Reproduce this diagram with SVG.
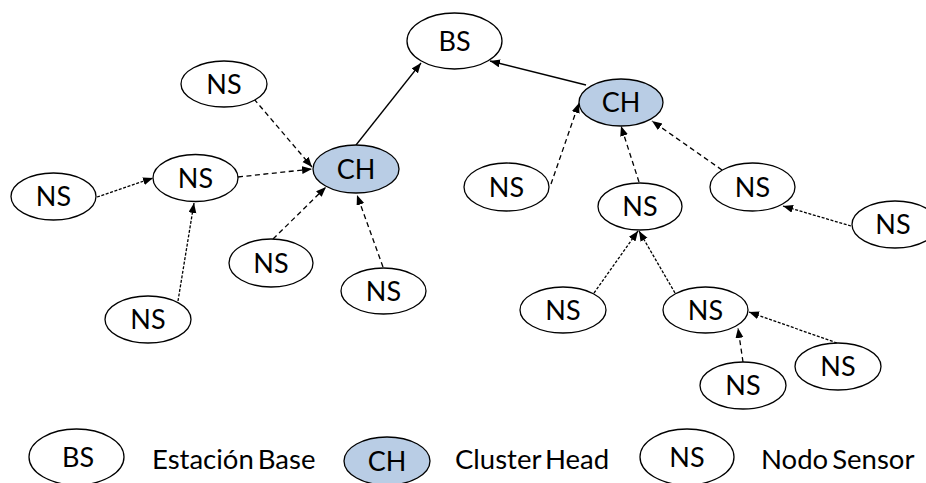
<svg xmlns="http://www.w3.org/2000/svg" width="926" height="483" viewBox="0 0 926 483">
<style>
  .n ellipse { fill: #ffffff; stroke: #000; stroke-width: 1.3; }
  .c ellipse { fill: #b9cde5; stroke: #000; stroke-width: 1.3; }
  text { font-family: Lato, "Open Sans", "Liberation Sans", sans-serif; font-size: 27px; fill: #000; }
  .n text, .c text { text-anchor: middle; }
  .lg { font-size: 27.5px; word-spacing: -3px; }
  .e { fill: none; stroke: #000; stroke-width: 1.3; marker-end: url(#ah); }
  .d1 { stroke-dasharray: 5 3.5; }
  .d2 { stroke-dasharray: 3 1.6; }
</style>
<defs>
  <marker id="ah" markerUnits="userSpaceOnUse" markerWidth="11" markerHeight="9" refX="10" refY="4" orient="auto">
    <path d="M0,0 L10,4 L0,8 z" fill="#000"/>
  </marker>
</defs>
<g id="connectors">
  <line class="e" x1="356" y1="145" x2="421" y2="63"/>
  <line class="e" x1="586" y1="85" x2="490" y2="61"/>
  <line class="e d1" x1="254" y1="99" x2="312" y2="167"/>
  <line class="e d1" x1="238" y1="177" x2="312" y2="169"/>
  <line class="e d2" x1="97" y1="197" x2="153" y2="178"/>
  <line class="e d2" x1="178" y1="301" x2="194" y2="203"/>
  <line class="e d1" x1="273" y1="239" x2="326" y2="187"/>
  <line class="e d1" x1="383" y1="267" x2="357" y2="195"/>
  <line class="e d1" x1="551" y1="184" x2="579" y2="103"/>
  <line class="e d1" x1="639" y1="182" x2="621" y2="126"/>
  <line class="e d1" x1="722" y1="170" x2="652" y2="121"/>
  <line class="e d2" x1="851" y1="226" x2="783" y2="206"/>
  <line class="e d2" x1="594" y1="293" x2="638" y2="231"/>
  <line class="e d2" x1="675" y1="293" x2="639" y2="231"/>
  <line class="e d1" x1="743" y1="362" x2="738" y2="328"/>
  <line class="e d2" x1="837" y1="343" x2="749" y2="312"/>
</g>
<g id="bs" class="n"><ellipse cx="454.5" cy="41" rx="47.5" ry="28"/><text x="454.5" y="50.5">BS</text></g>
<g id="ch1" class="c"><ellipse cx="356" cy="169" rx="43" ry="24"/><text x="356" y="178.5">CH</text></g>
<g id="ch2" class="c"><ellipse cx="621" cy="102.5" rx="42" ry="23.5"/><text x="621" y="112">CH</text></g>
<g id="ns1" class="n"><ellipse cx="224" cy="84" rx="43" ry="23"/><text x="224" y="93.5">NS</text></g>
<g id="ns2" class="n"><ellipse cx="195.5" cy="178" rx="42.5" ry="23.5"/><text x="195.5" y="187.5">NS</text></g>
<g id="ns3" class="n"><ellipse cx="53.5" cy="196.5" rx="42.5" ry="23.5"/><text x="53.5" y="206">NS</text></g>
<g id="ns4" class="n"><ellipse cx="148" cy="319.5" rx="43" ry="23.5"/><text x="148" y="329">NS</text></g>
<g id="ns5" class="n"><ellipse cx="271" cy="263" rx="42" ry="24"/><text x="271" y="272.5">NS</text></g>
<g id="ns6" class="n"><ellipse cx="383.5" cy="291" rx="42.5" ry="23"/><text x="383.5" y="300.5">NS</text></g>
<g id="ns7" class="n"><ellipse cx="506.5" cy="187" rx="42.5" ry="24"/><text x="506.5" y="196.5">NS</text></g>
<g id="ns8" class="n"><ellipse cx="640" cy="206.5" rx="42" ry="23.5"/><text x="640" y="216">NS</text></g>
<g id="ns9" class="n"><ellipse cx="752.5" cy="187" rx="42.5" ry="24"/><text x="752.5" y="196.5">NS</text></g>
<g id="ns10" class="n"><ellipse cx="895" cy="224.5" rx="43" ry="23.5"/><text x="893" y="234">NS</text></g>
<g id="ns11" class="n"><ellipse cx="563" cy="310" rx="43" ry="23"/><text x="563" y="319.5">NS</text></g>
<g id="ns12" class="n"><ellipse cx="705.5" cy="310" rx="42.5" ry="23"/><text x="705.5" y="319.5">NS</text></g>
<g id="ns13" class="n"><ellipse cx="838" cy="366.5" rx="43" ry="23.5"/><text x="838" y="376">NS</text></g>
<g id="ns14" class="n"><ellipse cx="743" cy="385.5" rx="43" ry="23.5"/><text x="743" y="395">NS</text></g>
<g id="legend">
  <g id="leg-bs" class="n"><ellipse cx="76.5" cy="457" rx="47.5" ry="28"/><text x="78" y="466.5">BS</text></g>
  <text class="lg" x="152" y="469">Estación Base</text>
  <g id="leg-ch" class="c"><ellipse cx="387" cy="461" rx="43" ry="24"/><text x="387" y="471">CH</text></g>
  <text class="lg" x="455" y="469">Cluster Head</text>
  <g id="leg-ns" class="n"><ellipse cx="687" cy="457" rx="47" ry="28"/><text x="687" y="466.5">NS</text></g>
  <text class="lg" x="761" y="469">Nodo Sensor</text>
</g>
</svg>
